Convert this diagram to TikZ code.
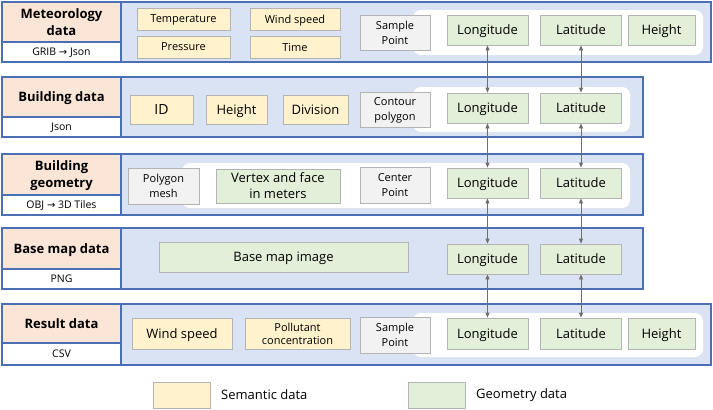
\documentclass[tikz,border=0pt]{standalone}
\usepackage{fontspec}
\setmainfont{Open Sans}
\newfontfamily\symf{DejaVu Sans}
\usetikzlibrary{arrows.meta}

\definecolor{rowblue}{HTML}{DAE3F3}
\definecolor{rowline}{HTML}{4A6FB5}
\definecolor{titlepink}{HTML}{FBE5D6}
\definecolor{semyellow}{HTML}{FFF2CC}
\definecolor{geogreen}{HTML}{E2F0D9}
\definecolor{ptgray}{HTML}{F2F2F2}
\definecolor{boxline}{HTML}{B4B4B4}
\definecolor{arrowgray}{HTML}{6E6E6E}

\tikzset{
  rowbox/.style={draw=rowline, line width=1.2pt, fill=rowblue, inner sep=0pt},
  titlebox/.style={draw=rowline, line width=1.2pt, fill=titlepink, inner sep=0pt, minimum width=119pt,
    font=\fontsize{13}{17}\selectfont\bfseries, align=center, text depth=0pt},
  fmtbox/.style={draw=rowline, line width=1.2pt, fill=white, inner sep=0pt, minimum width=119pt,
    font=\fontsize{10.5}{12}\selectfont, text depth=0pt},
  panel/.style={fill=white, rounded corners=8pt, inner sep=0pt},
  sem/.style={draw=boxline, line width=0.8pt, fill=semyellow, inner sep=0pt, align=center, text depth=0pt},
  geo/.style={draw=boxline, line width=0.8pt, fill=geogreen, inner sep=0pt, align=center, text depth=0pt,
    font=\fontsize{13}{15}\selectfont},
  ptbox/.style={draw=boxline, line width=0.8pt, fill=ptgray, inner sep=0pt, align=center, text depth=0pt,
    minimum width=70pt, font=\fontsize{11}{15}\selectfont},
  coordbox/.style={geo, minimum width=81pt},
  link/.style={{Triangle[length=5pt,width=4pt]}-{Triangle[length=5pt,width=4pt]}, draw=arrowgray, line width=0.8pt},
  legtext/.style={anchor=west, inner sep=0pt, font=\fontsize{13}{15}\selectfont}
}

\begin{document}
\begin{tikzpicture}[x=1pt,y=-1pt]
\useasboundingbox (0,0) rectangle (713,410);

% meteorology data
\node[rowbox, minimum width=590pt, minimum height=60pt] (r1) at (416,32) {};
\node[titlebox, minimum height=40pt] (t1) at (61.5,22) {Meteorology\\data};
\node[fmtbox, minimum height=20pt] (f1) at (61.5,52) {GRIB {\symf\fontsize{10}{10}\selectfont →} Json};
\node[sem, minimum width=93pt, minimum height=22pt, font=\fontsize{11}{13}\selectfont] (temp) at (183.5,19) {Temperature};
\node[sem, minimum width=90pt, minimum height=22pt, font=\fontsize{11}{13}\selectfont] (wind1) at (295,19) {Wind speed};
\node[sem, minimum width=93pt, minimum height=22pt, font=\fontsize{11}{13}\selectfont] (press) at (183.5,47) {Pressure};
\node[sem, minimum width=90pt, minimum height=22pt, font=\fontsize{11}{13}\selectfont] (time) at (295,47) {Time};
\node[panel, minimum width=290pt, minimum height=45pt] (p1) at (558,32.5) {};
\node[ptbox, minimum height=35pt] (sp1) at (395,32.5) {Sample\\Point};
\node[coordbox, minimum height=30pt] (lon1) at (487.5,30) {Longitude};
\node[coordbox, minimum height=30pt] (lat1) at (581,30) {Latitude};
\node[geo, minimum width=67pt, minimum height=30pt] (hgt1) at (661.5,30) {Height};

% building data
\node[rowbox, minimum width=522pt, minimum height=60pt] (r2) at (382,107) {};
\node[titlebox, minimum height=40pt] (t2) at (61.5,97) {Building data};
\node[fmtbox, minimum height=20pt] (f2) at (61.5,127) {Json};
\node[sem, minimum width=63pt, minimum height=29pt, font=\fontsize{14}{16}\selectfont] (bid) at (161.5,109.5) {ID};
\node[sem, minimum width=61pt, minimum height=29pt, font=\fontsize{13}{15}\selectfont] (bhgt) at (236.5,109.5) {Height};
\node[sem, minimum width=65pt, minimum height=29pt, font=\fontsize{13}{15}\selectfont] (bdiv) at (315.5,109.5) {Division};
\node[panel, minimum width=217pt, minimum height=45pt] (p2) at (521.5,109.5) {};
\node[ptbox, minimum height=35pt] (cont) at (395,109.5) {Contour\\polygon};
\node[coordbox, minimum height=30pt] (lon2) at (487.5,108) {Longitude};
\node[coordbox, minimum height=30pt] (lat2) at (581,108) {Latitude};

% building geometry
\node[rowbox, minimum width=522pt, minimum height=61pt] (r3) at (382,184.5) {};
\node[titlebox, minimum height=41pt] (t3) at (61.5,174.5) {Building\\geometry};
\node[fmtbox, minimum height=20pt] (f3) at (61.5,205) {OBJ {\symf\fontsize{10}{10}\selectfont →} 3D Tiles};
\node[panel, minimum width=448pt, minimum height=45pt] (p3) at (406,185.5) {};
\node[ptbox, minimum width=71pt, minimum height=36pt] (mesh) at (163.5,186) {Polygon\\mesh};
\node[geo, minimum width=124pt, minimum height=34pt, font=\fontsize{13}{16}\selectfont] (vert) at (278,186) {Vertex and face\\in meters};
\node[ptbox, minimum height=36pt] (cpt) at (395,185) {Center\\Point};
\node[coordbox, minimum height=30pt] (lon3) at (487.5,183) {Longitude};
\node[coordbox, minimum height=30pt] (lat3) at (581,183) {Latitude};

% base map data
\node[rowbox, minimum width=522pt, minimum height=61pt] (r4) at (382,258.5) {};
\node[titlebox, minimum height=41pt] (t4) at (61.5,248.5) {Base map data};
\node[fmtbox, minimum height=20pt] (f4) at (61.5,279) {PNG};
\node[geo, minimum width=249pt, minimum height=30pt] (bmap) at (283.5,257) {Base map image};
\node[coordbox, minimum height=30pt] (lon4) at (487.5,259) {Longitude};
\node[coordbox, minimum height=30pt] (lat4) at (581,259) {Latitude};

% result data
\node[rowbox, minimum width=590pt, minimum height=61pt] (r5) at (416,334.5) {};
\node[titlebox, minimum height=39pt] (t5) at (61.5,323.5) {Result data};
\node[fmtbox, minimum height=22pt] (f5) at (61.5,354) {CSV};
\node[sem, minimum width=100pt, minimum height=31pt, font=\fontsize{13}{15}\selectfont] (wind5) at (182,334) {Wind speed};
\node[sem, minimum width=105pt, minimum height=31pt, font=\fontsize{11}{13}\selectfont] (poll) at (297.5,333.5) {Pollutant\\concentration};
\node[panel, minimum width=290pt, minimum height=44pt] (p5) at (558,335) {};
\node[ptbox, minimum height=36pt] (sp5) at (395,335) {Sample\\Point};
\node[coordbox, minimum height=31pt] (lon5) at (487.5,333.5) {Longitude};
\node[coordbox, minimum height=31pt] (lat5) at (581,333.5) {Latitude};
\node[geo, minimum width=67pt, minimum height=31pt] (hgt5) at (661.5,333.5) {Height};

% links
\draw[link] (lon1) -- (lon2);
\draw[link] (lat1) -- (lat2);
\draw[link] (lon2) -- (lon3);
\draw[link] (lat2) -- (lat3);
\draw[link] (lon3) -- (lon4);
\draw[link] (lat3) -- (lat4);
\draw[link] (lon4) -- (lon5);
\draw[link] (lat4) -- (lat5);

% legend
\node[sem, minimum width=57pt, minimum height=26pt] (legsem) at (181.5,395) {};
\node[legtext] (legsemt) at (221,395) {Semantic data};
\node[geo, minimum width=57pt, minimum height=26pt] (leggeo) at (436.5,395) {};
\node[legtext] (leggeot) at (476,395) {Geometry data};
\end{tikzpicture}
\end{document}
